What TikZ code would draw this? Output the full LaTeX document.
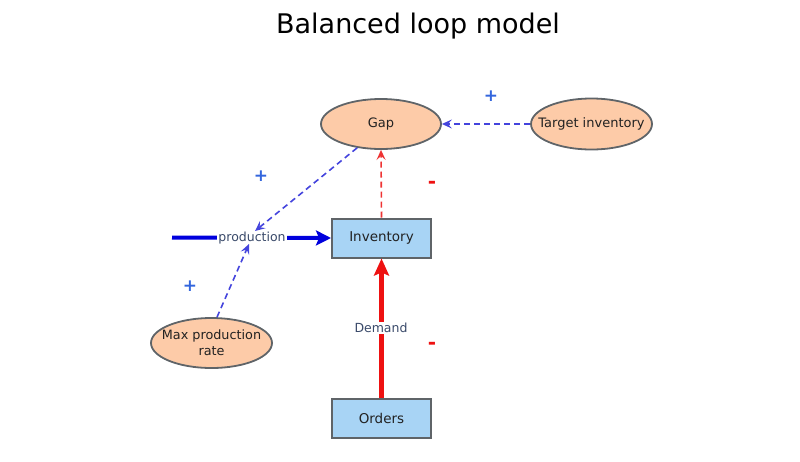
\documentclass[tikz,border=0pt]{standalone}
\usepackage{fontspec}
\setmainfont{DejaVu Sans}
\usetikzlibrary{arrows.meta,shapes.geometric}
\definecolor{peach}{HTML}{FDCBA8}
\definecolor{lblue}{HTML}{A8D4F5}
\definecolor{edgegray}{HTML}{5F6468}
\definecolor{flowblue}{HTML}{0000DD}
\definecolor{linkblue}{HTML}{4444DD}
\definecolor{signblue}{HTML}{3366DD}
\definecolor{flowred}{HTML}{EE1111}
\definecolor{linkred}{HTML}{EE3333}
\definecolor{labtext}{HTML}{3A4A6A}
\definecolor{nodetext}{HTML}{222222}
\tikzset{
  aux/.style={ellipse, draw=edgegray, line width=1.8pt, fill=peach, inner sep=0pt},
  auxtext/.style={inner sep=0pt, text=nodetext, font=\fontsize{13}{16}\selectfont, align=center},
  stock/.style={rectangle, draw=edgegray, line width=2pt, fill=lblue, minimum width=99pt, minimum height=39pt, inner sep=0pt, text=nodetext, font=\fontsize{13.5}{15}\selectfont},
  flowlab/.style={fill=white, inner sep=1pt, text=labtext, font=\fontsize{12.5}{14}\selectfont},
  bluelink/.style={draw=linkblue, line width=1.6pt, dash pattern=on 6pt off 4pt, -{Stealth[length=10pt,width=9pt,inset=4pt]}},
  redlink/.style={draw=linkred, line width=1.6pt, dash pattern=on 6pt off 4pt, -{Stealth[length=10pt,width=9pt,inset=4pt]}},
  plussign/.style={text=signblue, font=\bfseries\fontsize{17}{17}\selectfont},
  minussign/.style={text=flowred, font=\bfseries\fontsize{20}{20}\selectfont}
}
\begin{document}
\begin{tikzpicture}[x=1pt,y=-1pt]
\useasboundingbox (0,0) rectangle (800,461);
\node (title) at (418,26) {\fontsize{27}{30}\selectfont Balanced loop model};
\node[aux, minimum width=120pt, minimum height=50pt] (gap) at (381,124) {};
\node[auxtext] (gapT) at (gap) {Gap};
\node[aux, minimum width=121pt, minimum height=51pt] (target) at (591.5,124) {};
\node[auxtext, font=\fontsize{13}{16}\selectfont] (targetT) at (target) {Target inventory};
\node[aux, minimum width=121pt, minimum height=50pt] (maxp) at (211.5,343) {};
\node[auxtext, font=\fontsize{12.8}{16}\selectfont] (maxpT) at (maxp) {Max production\\rate};
\node[stock] (inv) at (381.5,238) {Inventory};
\node[stock] (ord) at (381.5,418) {Orders};
\coordinate (src) at (172,237.5);
% production flow
\draw[flowblue, line width=4pt, -{Stealth[length=15pt,width=15pt,inset=3pt]}] (src) -- (inv.west);
\node[flowlab] (prod) at (252,238) {production};
% demand flow
\draw[flowred, line width=4.5pt, -{Stealth[length=17pt,width=15pt,inset=3pt]}] (ord.north) -- (inv.south);
\node[flowlab] (dem) at (381,328) {Demand};
% links
\coordinate (prodA) at (255,231);
\coordinate (prodB) at (249,244);
\draw[bluelink] (gap.225) -- (prodA);
\draw[bluelink] (maxp.78) -- (prodB);
\draw[bluelink] (target.west) -- (gap.east);
\draw[redlink] (inv.north) -- (gap.south);
% signs
\node[plussign] (p1) at (491,96) {+};
\node[plussign] (p2) at (261,176) {+};
\node[plussign] (p3) at (190,286) {+};
\node[minussign] (m1) at (432,185) {-};
\node[minussign] (m2) at (432,346) {-};
\end{tikzpicture}
\end{document}
